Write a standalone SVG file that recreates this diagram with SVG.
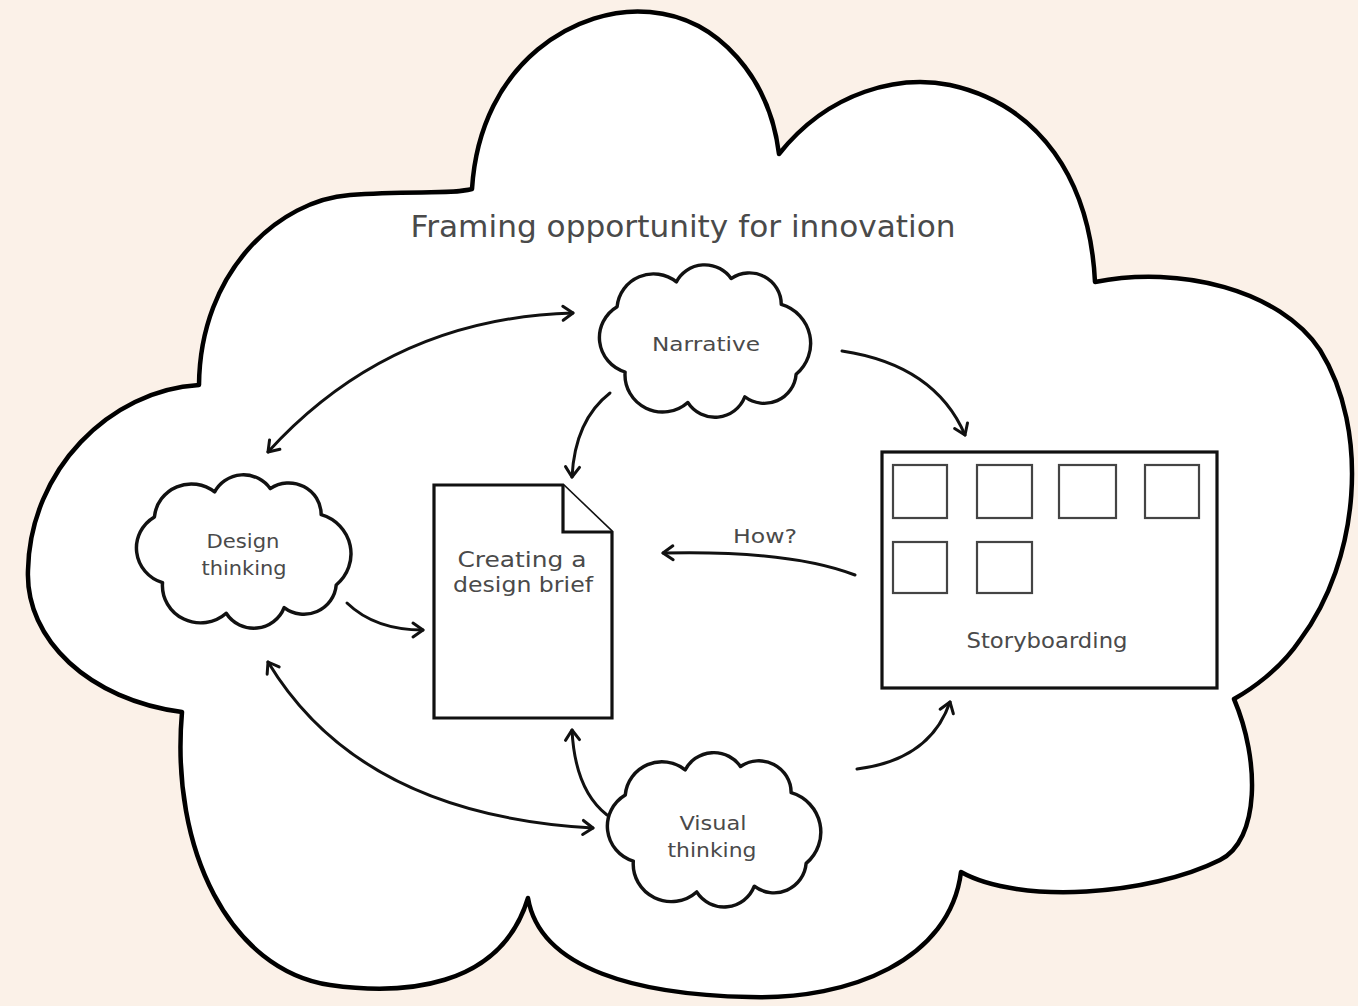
<svg xmlns="http://www.w3.org/2000/svg" xmlns:xlink="http://www.w3.org/1999/xlink" width="1358" height="1006" viewBox="0 0 1358 1006">
<style>
.bg{fill:#fbf1e8}
.outline{fill:#fff;stroke:#000;stroke-width:4.5;stroke-linejoin:round}
.cloud{fill:#fff;stroke:#111;stroke-width:3;stroke-linejoin:round}
.box{fill:#fff;stroke:#111;stroke-width:3.2}
.frame{fill:none;stroke:#444;stroke-width:2.2}
.lbl{font-family:"DejaVu Sans","Liberation Sans",sans-serif;fill:#4a4a4a;text-anchor:middle}
.conn{fill:none;stroke:#111;stroke-width:3;stroke-linecap:round}
</style>
<defs>
<marker id="ah" markerUnits="userSpaceOnUse" markerWidth="20" markerHeight="20" viewBox="-14 -10 18 20" refX="0" refY="0" orient="auto-start-reverse">
<path d="M -10,-7 L 0,0 L -10,7" fill="none" stroke="#111" stroke-width="3" stroke-linecap="round" stroke-linejoin="round"/>
</marker>
<path id="cl" d="M 28,50 A 32,32 0 0 1 80,28 A 28,28 0 0 1 128,25 A 28,28 0 0 1 172,48 A 36,36 0 0 1 185,110 A 28,28 0 0 1 140,130 A 28,28 0 0 1 90,135 A 33,33 0 0 1 35,108 A 32,32 0 0 1 28,50 Z"/>
</defs>
<rect class="bg" x="0" y="0" width="1358" height="1006"/>
<g id="frame-cloud">
<path class="outline" d="M 472,189 C 480,60 580,5 650,12 C 720,18 770,80 779,154 C 830,90 900,75 950,85 C 1040,105 1090,180 1095,282 C 1180,265 1280,290 1320,350 C 1370,430 1360,560 1300,640 C 1280,670 1250,690 1234,699 C 1260,760 1260,840 1220,860 C 1150,895 1020,905 961,872 C 950,960 850,1000 750,997 C 640,995 540,970 528,898 C 500,990 400,995 330,985 C 230,970 170,850 182,712 C 90,700 25,640 28,570 C 30,470 110,390 199,385 C 200,270 280,200 350,195 C 410,190 450,195 472,189 Z"/>
<text class="lbl" x="683" y="237" font-size="31" textLength="545" lengthAdjust="spacingAndGlyphs">Framing opportunity for innovation</text>
</g>
<g id="narrative">
<use xlink:href="#cl" class="cloud" transform="translate(585.2,250.4) scale(1.14,1.126)"/>
<text class="lbl" x="706" y="351" font-size="20" textLength="108" lengthAdjust="spacingAndGlyphs">Narrative</text>
</g>
<g id="design-thinking">
<use xlink:href="#cl" class="cloud" transform="translate(122,460.3) scale(1.158,1.133)"/>
<text class="lbl" x="243" y="548" font-size="19" textLength="73" lengthAdjust="spacingAndGlyphs">Design</text>
<text class="lbl" x="244" y="575" font-size="19" textLength="85" lengthAdjust="spacingAndGlyphs">thinking</text>
</g>
<g id="visual-thinking">
<use xlink:href="#cl" class="cloud" transform="translate(593,738) scale(1.152,1.14)"/>
<text class="lbl" x="713" y="830" font-size="19" textLength="67" lengthAdjust="spacingAndGlyphs">Visual</text>
<text class="lbl" x="712" y="857" font-size="20" textLength="89" lengthAdjust="spacingAndGlyphs">thinking</text>
</g>
<g id="design-brief">
<path class="box" d="M 434,485 L 563,485 L 612,532 L 612,718 L 434,718 Z"/>
<path class="box" d="M 563,485 L 563,532 L 612,532"/>
<text class="lbl" x="522" y="567" font-size="22" textLength="129" lengthAdjust="spacingAndGlyphs">Creating a</text>
<text class="lbl" x="523" y="592" font-size="22" textLength="140" lengthAdjust="spacingAndGlyphs">design brief</text>
</g>
<g id="storyboarding">
<rect class="box" x="882" y="452" width="335" height="236"/>
<rect class="frame" x="893" y="465" width="54" height="53"/>
<rect class="frame" x="977" y="465" width="55" height="53"/>
<rect class="frame" x="1059" y="465" width="57" height="53"/>
<rect class="frame" x="1145" y="465" width="54" height="53"/>
<rect class="frame" x="893" y="542" width="54" height="51"/>
<rect class="frame" x="977" y="542" width="55" height="51"/>
<text class="lbl" x="1047" y="648" font-size="21" textLength="161" lengthAdjust="spacingAndGlyphs">Storyboarding</text>
</g>
<g id="connectors">
<path class="conn" d="M 268,452 Q 390,318 573,313" marker-start="url(#ah)" marker-end="url(#ah)"/>
<path class="conn" d="M 842,351 Q 935,365 965,435" marker-end="url(#ah)"/>
<path class="conn" d="M 610,393 Q 575,420 572,477" marker-end="url(#ah)"/>
<path class="conn" d="M 855,575 Q 790,550 663,553" marker-end="url(#ah)"/>
<path class="conn" d="M 347,603 Q 375,630 423,630" marker-end="url(#ah)"/>
<path class="conn" d="M 268,662 Q 360,815 593,828" marker-start="url(#ah)" marker-end="url(#ah)"/>
<path class="conn" d="M 607,815 Q 575,790 572,730" marker-end="url(#ah)"/>
<path class="conn" d="M 857,769 Q 930,760 950,702" marker-end="url(#ah)"/>
<text class="lbl" x="765" y="543" font-size="20" textLength="64" lengthAdjust="spacingAndGlyphs">How?</text>
</g>
</svg>
